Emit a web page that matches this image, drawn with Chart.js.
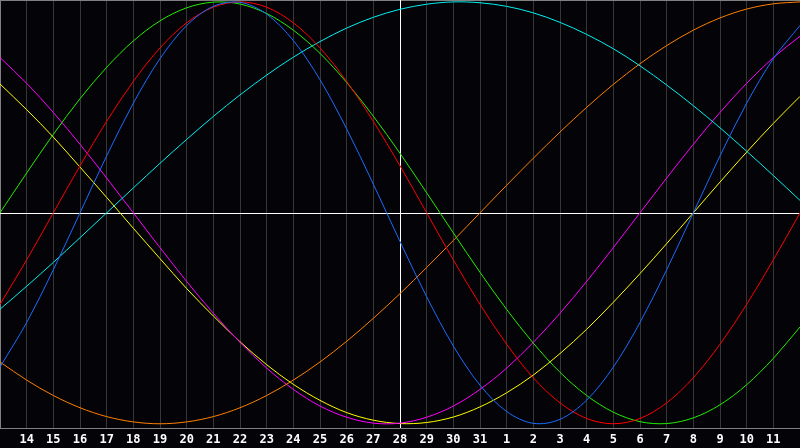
<!DOCTYPE html>
<html>
<head>
<meta charset="utf-8">
<script src="https://cdn.jsdelivr.net/npm/chart.js@4/dist/chart.umd.min.js"></script>
<style>
  html, body { margin: 0; padding: 0; background: #040308; }
  #wrap { width: 800px; height: 448px; position: relative; }
</style>
</head>
<body>
<div id="wrap"><canvas id="c" width="800" height="448"></canvas></div>
<script>
// Day labels (index 0 and 30 are the unlabeled edges)
const days = ['13','14','15','16','17','18','19','20','21','22','23','24','25','26','27','28','29','30','31','1','2','3','4','5','6','7','8','9','10','11','12'];
const todayIndex = 15;

// Series values in percent (-100..100), one per day
const physical     = [-73.1,-52.0,-27.0,0,27.0,52.0,73.1,88.8,97.9,99.8,94.2,81.7,63.1,39.8,13.6,-13.6,-39.8,-63.1,-81.7,-94.2,-99.8,-97.9,-88.8,-73.1,-52.0,-27.0,0,27.0,52.0,73.1,88.8];
const emotional    = [-43.4,-22.3,0,22.3,43.4,62.3,78.2,90.1,97.5,100,97.5,90.1,78.2,62.3,43.4,22.3,0,-22.3,-43.4,-62.3,-78.2,-90.1,-97.5,-100,-97.5,-90.1,-78.2,-62.3,-43.4,-22.3,0];
const intellectual = [0,18.9,37.2,54.1,69.0,81.5,91.0,97.2,99.9,99.0,94.5,86.6,75.6,61.8,45.8,28.2,9.5,-9.5,-28.2,-45.8,-61.8,-75.6,-86.6,-94.5,-99.0,-99.9,-97.2,-91.0,-81.5,-69.0,-54.1];
const spiritual    = [-45.7,-34.8,-23.5,-11.8,0,11.8,23.5,34.8,45.7,55.9,65.3,73.8,81.2,87.6,92.7,96.5,98.9,100,99.6,97.9,94.8,90.3,84.6,77.8,69.7,60.6,50.8,40.3,29.2,17.7,5.9];
const awareness    = [-70.7,-79.3,-86.6,-92.4,-96.6,-99.1,-100,-99.1,-96.6,-92.4,-86.6,-79.3,-70.7,-60.9,-50,-38.3,-25.9,-13.1,0,13.1,25.9,38.3,50,60.9,70.7,79.3,86.6,92.4,96.6,99.1,100];
const intuitive    = [73.6,61.4,47.6,32.5,16.5,0,-16.5,-32.5,-47.6,-61.4,-73.6,-83.7,-91.6,-96.9,-99.7,-99.7,-96.9,-91.6,-83.7,-73.6,-61.4,-47.6,-32.5,-16.5,0,16.5,32.5,47.6,61.4,73.6,83.7];
const aesthetic    = [61.1,48.9,35.9,21.7,7.3,-7.3,-21.7,-35.9,-48.9,-61.1,-72.0,-81.3,-88.9,-94.7,-98.3,-99.9,-99.4,-96.8,-92.0,-85.3,-76.9,-66.7,-55.2,-42.4,-28.8,-14.6,0,14.6,28.8,42.4,55.2];

const bgPlugin = {
  id: 'bg',
  beforeDraw(chart) {
    const c = chart.ctx;
    c.save();
    c.fillStyle = '#040308';
    c.fillRect(0, 0, chart.width, chart.height);
    c.restore();
  },
  beforeDatasetsDraw(chart) {
    const c = chart.ctx, a = chart.chartArea;
    c.save();
    c.strokeStyle = '#808080';
    c.lineWidth = 1;
    c.beginPath();
    c.moveTo(0, 0.5); c.lineTo(a.right, 0.5);
    c.moveTo(0.5, 0); c.lineTo(0.5, a.bottom);
    c.stroke();
    const y0 = Math.round(chart.scales.y.getPixelForValue(0)) + 0.5;
    const xT = Math.round(chart.scales.x.getPixelForValue(todayIndex)) + 0.5;
    c.strokeStyle = '#ffffff';
    c.beginPath();
    c.moveTo(a.left, y0); c.lineTo(a.right, y0);
    c.moveTo(xT, a.top); c.lineTo(xT, a.bottom);
    c.stroke();
    c.restore();
  }
};

function ds(data, color) {
  return { data, borderColor: color, borderWidth: 1, pointRadius: 0, tension: 0.33, fill: false };
}

new Chart(document.getElementById('c'), {
  type: 'line',
  data: {
    labels: days,
    datasets: [
      ds(physical, '#1a6cff'),
      ds(emotional, '#ff0000'),
      ds(intellectual, '#22ee00'),
      ds(spiritual, '#00f0f0'),
      ds(awareness, '#ff8000'),
      ds(intuitive, '#ff00ff'),
      ds(aesthetic, '#ffff00')
    ]
  },
  options: {
    responsive: false,
    animation: false,
    devicePixelRatio: 1,
    layout: { padding: 0 },
    plugins: { legend: { display: false }, tooltip: { enabled: false }, title: { display: false } },
    scales: {
      x: {
        type: 'category',
        offset: false,
        afterFit(scale) { scale.height = 20; scale.paddingLeft = 0; scale.paddingRight = 0; },
        grid: {
          drawTicks: false,
          color(ctx) { return (ctx.index === 0 || ctx.index === todayIndex) ? 'rgba(0,0,0,0)' : '#363636'; },
          lineWidth: 1
        },
        border: { display: true, color: '#808080', width: 1 },
        ticks: {
          autoSkip: false,
          maxRotation: 0,
          minRotation: 0,
          padding: 5,
          color: '#ffffff',
          font: { family: 'DejaVu Sans Mono', size: 12, weight: 'bold' },
          callback(val, idx) { return (idx === 0 || idx === days.length - 1) ? '' : days[idx]; }
        }
      },
      y: {
        display: false,
        min: -102.0,
        max: 100.9
      }
    }
  },
  plugins: [bgPlugin]
});
</script>
</body>
</html>
